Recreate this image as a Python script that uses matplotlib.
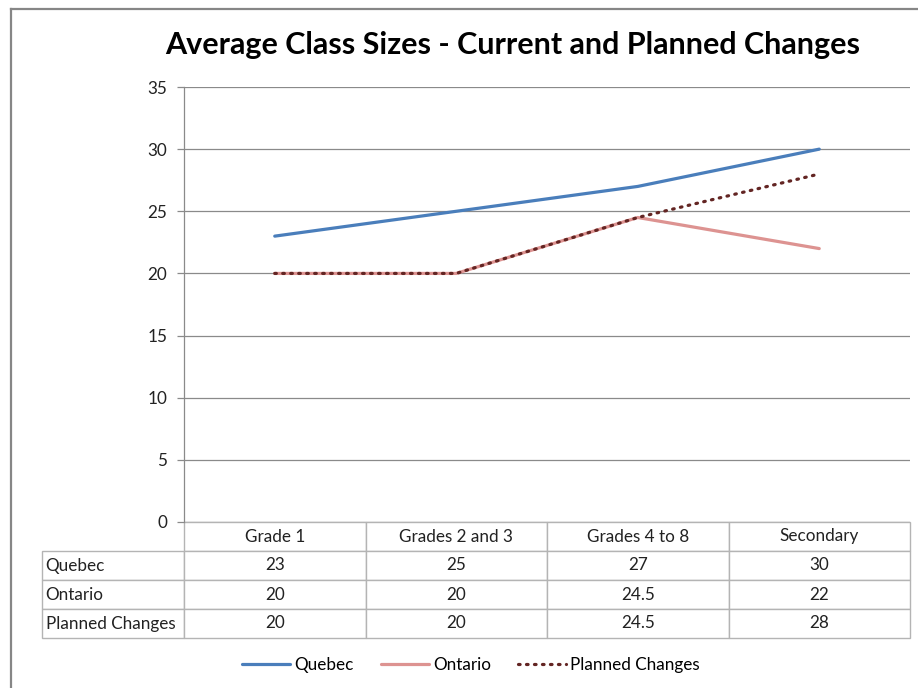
import matplotlib
matplotlib.use("Agg")
import matplotlib.pyplot as plt
from matplotlib.lines import Line2D
from matplotlib.table import Table

plt.rcParams['font.family'] = ['Lato', 'DejaVu Sans']

categories = ['Grade 1', 'Grades 2 and 3', 'Grades 4 to 8', 'Secondary']
series_names = ['Quebec', 'Ontario', 'Planned Changes']
quebec = [23, 25, 27, 30]
ontario = [20, 20, 24.5, 22]
planned = [20, 20, 24.5, 28]
yticks = [0, 5, 10, 15, 20, 25, 30, 35]

W, H = 918, 688
fig = plt.figure(figsize=(W / 100, H / 100), dpi=100)

# plot area in pixel coords of the reference
left, right, top, bottom = 184, 910, 87, 522
ax = fig.add_axes([left / W, 1 - bottom / H, (right - left) / W, (bottom - top) / H])

x = [i + 0.5 for i in range(len(categories))]
ax.plot(x, quebec, color='#4a7ebb', lw=2.3, label=series_names[0], solid_capstyle='round', zorder=3)
ax.plot(x, ontario, color='#dd9391', lw=2.3, label=series_names[1], solid_capstyle='round', zorder=3)
ax.plot(x, planned, color='#632523', lw=2.3, ls=(0, (0.5, 2.0)), label=series_names[2],
        dash_capstyle='round', zorder=4)

ax.set_xlim(0, len(categories))
ax.set_ylim(0, 35)
ax.set_yticks(yticks)
ax.set_xticks([])
ax.yaxis.grid(True, color='#8a8a8a', lw=0.9)
ax.set_axisbelow(True)
for s in ['top', 'right', 'bottom']:
    ax.spines[s].set_visible(False)
ax.spines['left'].set_color('#8a8a8a')
ax.spines['left'].set_linewidth(0.9)
ax.tick_params(axis='y', length=5, width=0.9, color='#8a8a8a', labelsize=12.3,
               labelcolor='#222222', pad=7)

# data table under the plot: column 0 holds the series names
col_w = 1 / len(categories)
label_w = (left - 42) / (right - left)
table_h = (638 - bottom) / (bottom - top)
row_h = table_h / 4
tbl = Table(ax, bbox=[-label_w, -table_h, 1 + label_w, table_h])
tbl.auto_set_font_size(False)
hdr = tbl.add_cell(0, 0, label_w, row_h, text='')
hdr.visible_edges = ''
for j, cat in enumerate(categories):
    tbl.add_cell(0, j + 1, col_w, row_h, text=cat, loc='center')
for i, (name, vals) in enumerate(zip(series_names, (quebec, ontario, planned))):
    c = tbl.add_cell(i + 1, 0, label_w, row_h, text=name, loc='left')
    c.PAD = 0.025
    for j, v in enumerate(vals):
        tbl.add_cell(i + 1, j + 1, col_w, row_h, text=f'{v:g}', loc='center')
for cell in tbl.get_celld().values():
    cell.set_edgecolor('#b4b4b4')
    cell.set_linewidth(1.0)
    cell.get_text().set_fontsize(12.3)
    cell.get_text().set_color('#222222')
ax.add_table(tbl)

fig.legend(loc='center', bbox_to_anchor=(471 / W, 1 - 665 / H), ncol=3, frameon=False,
           fontsize=12.3, handlelength=2.8, columnspacing=1.6, handletextpad=0.25)

fig.text(513 / W, 1 - 45 / H, 'Average Class Sizes - Current and Planned Changes',
         ha='center', va='center', fontsize=22, fontweight='bold')

# chart area border (left and top edges visible)
fig.add_artist(Line2D([11 / W, 11 / W], [0, 1 - 9 / H], color='#868686', lw=1.6))
fig.add_artist(Line2D([11 / W, 1], [1 - 9 / H, 1 - 9 / H], color='#868686', lw=1.6))

fig.savefig('out.png', dpi=100)
